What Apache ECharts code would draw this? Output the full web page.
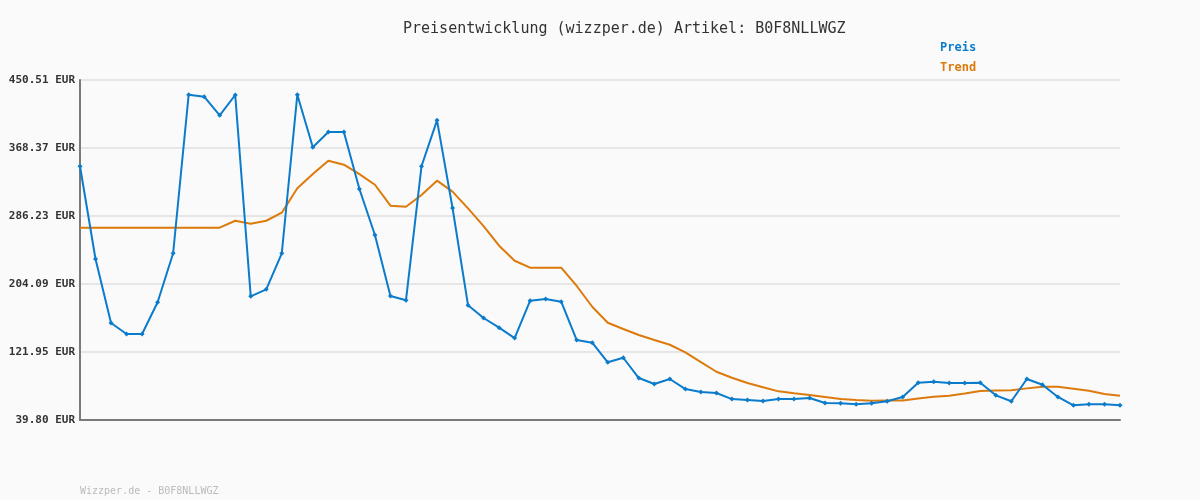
<!DOCTYPE html>
<html>
<head>
<meta charset="utf-8">
<script src="https://cdn.jsdelivr.net/npm/echarts@6/dist/echarts.min.js"></script>
<style>
  html, body { margin: 0; padding: 0; background: #fafafa; }
  #chart { width: 1200px; height: 500px; }
</style>
</head>
<body>
<div id="chart"></div>
<script>
// Messpunkte (Reihenfolge wie im Bild, links -> rechts)
var days = []
for (var i = 1; i <= 68; i++) days.push(String(i))

var preis = [
  346.3, 234.3, 157.0, 143.7, 143.7, 182.0, 241.2, 432.7, 430.3, 407.9,
  432.4, 189.2, 197.7, 241.2, 432.7, 369.2, 387.7, 387.7, 318.8, 263.3,
  189.6, 184.4, 346.3, 401.8, 295.9, 178.3, 163.0, 151.3, 138.8, 183.9,
  185.9, 182.7, 136.4, 133.2, 109.5, 115.0, 90.5, 83.3, 89.3, 77.2,
  73.6, 72.4, 65.1, 63.9, 62.7, 65.1, 65.1, 66.4, 60.3, 59.9,
  58.7, 59.9, 62.4, 67.6, 84.8, 86.0, 84.5, 84.5, 84.8, 69.6,
  62.4, 89.3, 82.4, 67.6, 57.5, 58.7, 58.7, 57.5
]

var trend = [
  272.1, 272.1, 272.1, 272.1, 272.1, 272.1, 272.1, 272.1, 272.1, 272.1,
  280.5, 276.9, 280.5, 290.2, 319.7, 336.9, 353.0, 348.2, 336.9, 324.0,
  298.7, 297.4, 311.6, 328.9, 315.6, 295.5, 274.1, 250.3, 232.2, 223.8,
  223.8, 223.8, 201.7, 176.6, 157.3, 149.7, 142.5, 136.4, 130.7, 121.6,
  109.8, 98.1, 90.9, 84.5, 79.3, 74.4, 72.0, 70.0, 67.6, 65.1,
  63.9, 63.1, 63.3, 63.5, 65.8, 67.9, 69.1, 71.8, 74.8, 75.4,
  75.7, 78.0, 80.0, 80.0, 77.6, 75.2, 71.2, 69.1
]

var yTicks = [39.805, 121.946, 204.087, 286.228, 368.369, 450.51]
var yTickLabels = ['39.80 EUR', '121.95 EUR', '204.09 EUR', '286.23 EUR', '368.37 EUR', '450.51 EUR']

var mono = '"DejaVu Sans Mono", monospace'
var chart = echarts.init(document.getElementById('chart'))

var option = {
  backgroundColor: '#fafafa',
  animation: false,
  title: [
    {
      text: 'Preisentwicklung (wizzper.de) Artikel: B0F8NLLWGZ',
      left: 398,
      top: 17,
      textStyle: { fontFamily: mono, fontSize: 15, fontWeight: 'normal', color: '#333' }
    },
    {
      text: 'Wizzper.de - B0F8NLLWGZ',
      left: 75,
      top: 481,
      textStyle: { fontFamily: mono, fontSize: 10, fontWeight: 'normal', color: '#bbb' }
    }
  ],
  legend: {
    orient: 'vertical',
    left: 929,
    top: 37,
    itemWidth: 0,
    itemHeight: 0,
    itemGap: 8,
    selectedMode: false,
    textStyle: { fontFamily: mono, fontSize: 12, fontWeight: 'bold' },
    data: [
      { name: 'Preis', textStyle: { color: '#0b7bcb' } },
      { name: 'Trend', textStyle: { color: '#dd7a0c' } }
    ]
  },
  grid: { left: 80, right: 80, top: 80, bottom: 80 },
  xAxis: {
    type: 'category',
    data: days,
    boundaryGap: false,
    axisLine: { lineStyle: { color: '#7a7a7a', width: 2 } },
    axisTick: { show: false },
    axisLabel: { show: false },
    splitLine: { show: false }
  },
  yAxis: {
    type: 'value',
    min: yTicks[0],
    max: yTicks[yTicks.length - 1],
    axisLine: { show: true, lineStyle: { color: '#7a7a7a', width: 2 } },
    axisTick: { show: false, customValues: yTicks },
    axisLabel: {
      customValues: yTicks,
      margin: 5,
      fontFamily: mono,
      fontSize: 11,
      fontWeight: 'bold',
      color: '#333',
      formatter: function (v) {
        for (var k = 0; k < yTicks.length; k++) {
          if (Math.abs(yTicks[k] - v) < 0.01) return yTickLabels[k]
        }
        return ''
      }
    },
    splitLine: { show: true, lineStyle: { color: '#e6e6e6', width: 2 } }
  },
  series: [
    {
      name: 'Trend',
      type: 'line',
      data: trend,
      showSymbol: false,
      lineStyle: { color: '#dd7a0c', width: 2 },
      itemStyle: { color: '#dd7a0c' },
      z: 2
    },
    {
      name: 'Preis',
      type: 'line',
      data: preis,
      symbol: 'diamond',
      symbolSize: 5,
      showAllSymbol: true,
      lineStyle: { color: '#0b7bcb', width: 2 },
      itemStyle: { color: '#0b7bcb' },
      z: 3
    }
  ]
}
chart.setOption(option)
</script>
</body>
</html>
